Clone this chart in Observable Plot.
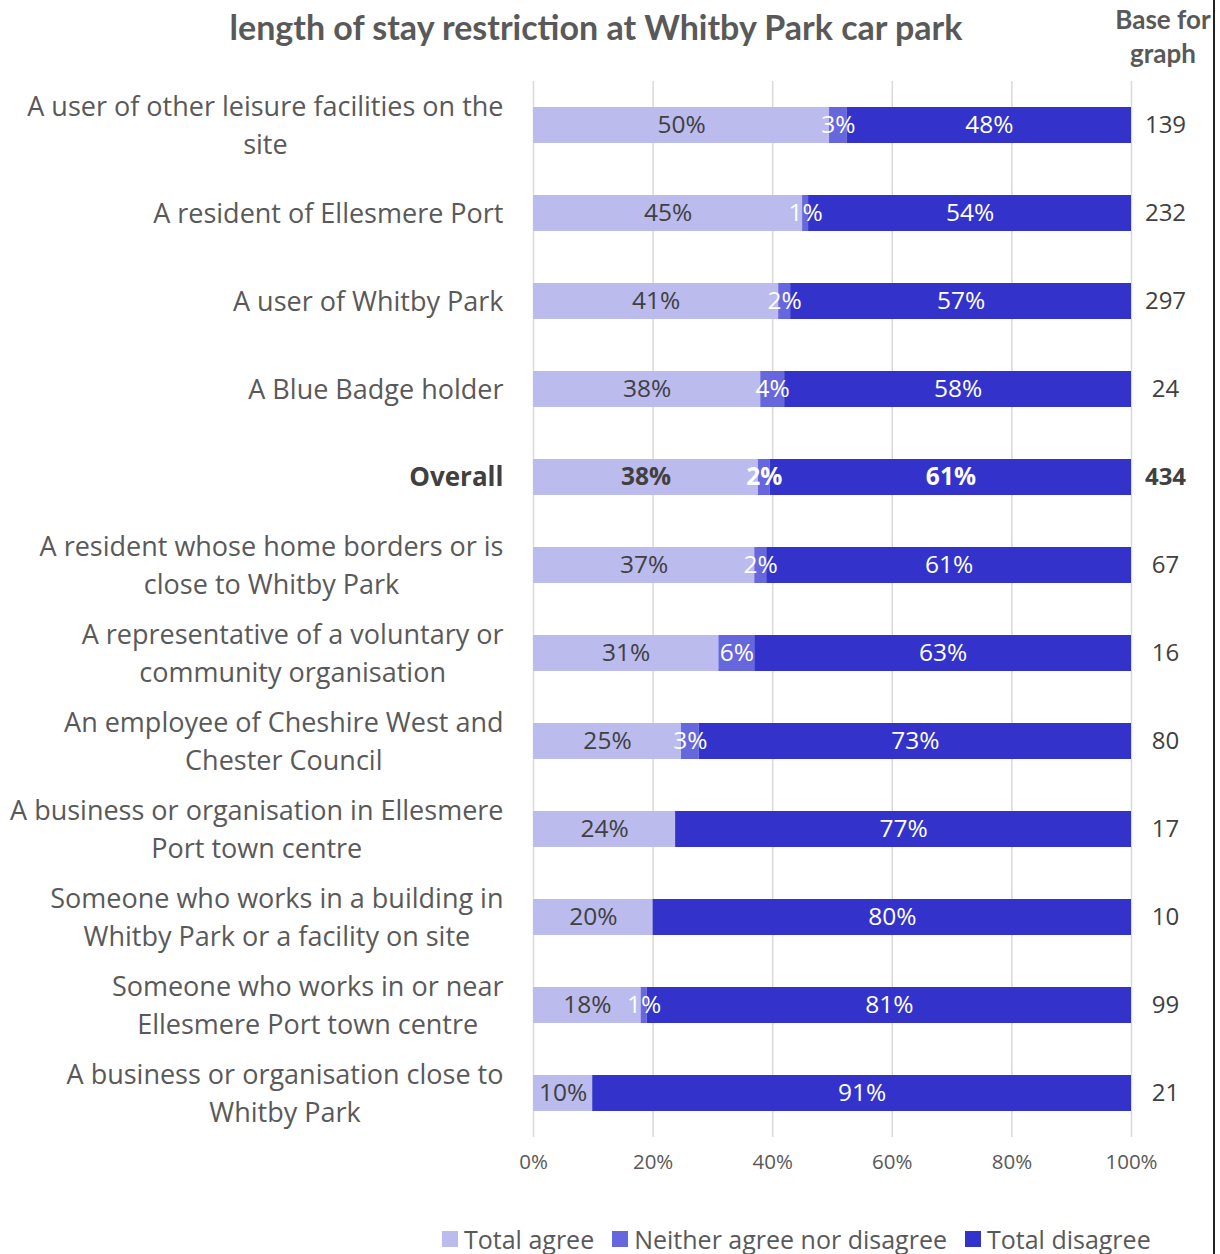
<!DOCTYPE html>
<html><head><meta charset="utf-8">
<script src="https://cdn.jsdelivr.net/npm/d3@7"></script>
<script src="https://cdn.jsdelivr.net/npm/@observablehq/plot@0.6"></script>
<style>
body{margin:0;background:#fff;font-family:"Open Sans",sans-serif;}
#wrap{position:relative;width:1220px;height:1254px;overflow:hidden;background:#fff}
#chart{position:absolute;left:0;top:0;z-index:1}
#chart svg{background:transparent}
#title{position:absolute;z-index:2;left:0;width:1192px;top:7px;text-align:center;font-family:Lato,sans-serif;font-weight:bold;font-size:34px;color:#595959;line-height:40px}
#base{position:absolute;z-index:2;left:1113px;width:100px;top:2px;text-align:center;font-family:Lato,sans-serif;font-weight:bold;font-size:26px;color:#595959;line-height:34px}
#legend{position:absolute;z-index:2;left:442px;top:1224px;display:flex;align-items:center;font-size:25px;line-height:30px;color:#595959;white-space:nowrap}
#legend .it{display:flex;align-items:center;margin-right:18px}
#legend .sw{width:16px;height:16px;margin-right:6px}
#border{position:absolute;z-index:3;left:1213px;top:0;width:2px;height:1254px;background:#222}
</style></head><body>
<div id="wrap">
<div id="chart"></div>
<div id="title">length of stay restriction at Whitby Park car park</div>
<div id="base">Base for<br>graph</div>
<div id="legend"></div>
<div id="border"></div>
</div>
<script>
const categories = [
  "A user of other leisure facilities on the\nsite",
  "A resident of Ellesmere Port",
  "A user of Whitby Park",
  "A Blue Badge holder",
  "Overall",
  "A resident whose home borders or is\nclose to Whitby Park",
  "A representative of a voluntary or\ncommunity organisation",
  "An employee of Cheshire West and\nChester Council",
  "A business or organisation in Ellesmere\nPort town centre",
  "Someone who works in a building in\nWhitby Park or a facility on site",
  "Someone who works in or near\nEllesmere Port town centre",
  "A business or organisation close to\nWhitby Park"
];
const totalAgree = [50, 45, 41, 38, 38, 37, 31, 25, 24, 20, 18, 10];
const neither    = [3, 1, 2, 4, 2, 2, 6, 3, 0, 0, 1, 0];
const totalDisagree = [48, 54, 57, 58, 61, 61, 63, 73, 77, 80, 81, 91];
const baseForGraph = [139, 232, 297, 24, 434, 67, 16, 80, 17, 10, 99, 21];
const seriesNames = ["Total agree", "Neither agree nor disagree", "Total disagree"];
const seriesColors = ["#bbbbee", "#6666dd", "#3333cc"];
const xTicks = [0, 0.2, 0.4, 0.6, 0.8, 1];

const seriesValues = [totalAgree, neither, totalDisagree];
const rows = [];
categories.forEach((c, i) => {
  seriesNames.forEach((s, j) => {
    rows.push({cat: c, series: s, value: seriesValues[j][i], overall: c === "Overall"});
  });
});
const baseRows = categories.map((c, i) => ({cat: c, base: baseForGraph[i], overall: c === "Overall"}));

const stackOpts = {offset: "normalize", order: seriesNames};
const labelRows = rows.filter(d => d.value > 0);
const textFill = d => d.series === "Total agree" ? "#404040" : "#ffffff";
const FONT = "'Open Sans', sans-serif";

const chart = Plot.plot({
  width: 1220,
  height: 1200,
  marginLeft: 533,
  marginRight: 89,
  marginTop: 81,
  marginBottom: 63,
  style: {fontFamily: FONT, background: "transparent"},
  x: {domain: [0, 1], ticks: xTicks},
  y: {domain: categories, paddingInner: 0.59, paddingOuter: 0.295},
  color: {domain: seriesNames, range: seriesColors},
  marks: [
    Plot.gridX(xTicks, {stroke: "#d9d9d9", strokeOpacity: 1, strokeWidth: 1.5}),
    Plot.barX(rows, Plot.stackX({x: "value", y: "cat", fill: "series", z: "series", ...stackOpts})),
    Plot.text(labelRows.filter(d => !d.overall), Plot.stackX({x: "value", y: "cat", z: "series", ...stackOpts,
      text: d => d.value + "%", fill: textFill, fontSize: 24.5})),
    Plot.text(labelRows.filter(d => d.overall), Plot.stackX({x: "value", y: "cat", z: "series", ...stackOpts,
      text: d => d.value + "%", fill: textFill, fontSize: 24.5, fontWeight: "bold"})),
    Plot.text(baseRows.filter(d => !d.overall), {y: "cat", text: d => String(d.base), frameAnchor: "right", textAnchor: "middle", dx: 34, fill: "#404040", fontSize: 24}),
    Plot.text(baseRows.filter(d => d.overall), {y: "cat", text: d => String(d.base), frameAnchor: "right", textAnchor: "middle", dx: 34, fill: "#404040", fontSize: 24, fontWeight: "bold"}),
    Plot.axisX({ticks: xTicks, tickFormat: d3.format(".0%"), tickSize: 0, tickPadding: 17, fontSize: 20.5, color: "#595959", label: null}),
    Plot.axisY({ticks: categories.filter(c => c !== "Overall"), tickSize: 0, tickPadding: 30, dy: -3, fontSize: 27, color: "#595959", lineHeight: 1.42, label: null}),
    Plot.axisY({ticks: ["Overall"], tickSize: 0, tickPadding: 30, dy: 0, fontSize: 26, fontWeight: "bold", color: "#404040", label: null})
  ]
});
document.getElementById("chart").appendChild(chart);

// center multi-line label lines within their right-aligned block
chart.querySelectorAll("g[aria-label='y-axis tick label'] text").forEach(t => {
  const spans = t.querySelectorAll("tspan");
  if (spans.length < 2) return;
  let w = 0;
  spans.forEach(s => { w = Math.max(w, s.getComputedTextLength()); });
  t.setAttribute("text-anchor", "middle");
  spans.forEach(s => s.setAttribute("x", -w / 2));
});

const lg = document.getElementById("legend");
seriesNames.forEach((s, i) => {
  const it = document.createElement("div");
  it.className = "it";
  it.innerHTML = `<span class="sw" style="background:${seriesColors[i]}"></span><span>${s}</span>`;
  lg.appendChild(it);
});
</script>
</body></html>
